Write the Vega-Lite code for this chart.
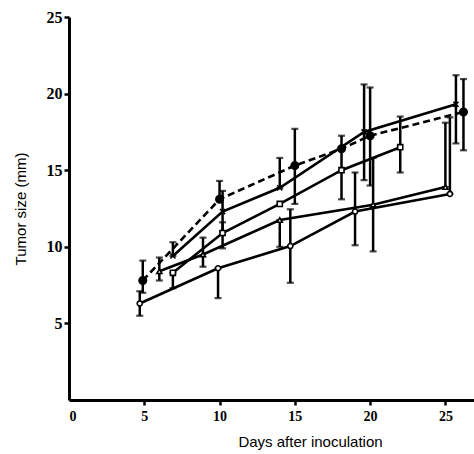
{
  "$schema": "https://vega.github.io/schema/vega-lite/v6.json",
  "width": 405,
  "height": 383,
  "autosize": {"type": "none"},
  "padding": {"left": 69, "top": 17, "right": 0, "bottom": 54},
  "background": "white",
  "config": {"view": {"stroke": null}, "axis": {"grid": false}},
  "data": {"values": [
    {"s": "A", "day": 4.9, "v": 7.8, "lo": 7.0, "hi": 9.1},
    {"s": "A", "day": 10.0, "v": 13.1, "lo": 13.1, "hi": 14.3},
    {"s": "A", "day": 15.0, "v": 15.3, "lo": 12.8, "hi": 17.7},
    {"s": "A", "day": 18.1, "v": 16.4, "lo": 16.4, "hi": 16.4},
    {"s": "A", "day": 20.0, "v": 17.25, "lo": 14.0, "hi": 20.4},
    {"s": "A", "day": 26.2, "v": 18.8, "lo": 16.3, "hi": 20.95},
    {"s": "B", "day": 6.9, "v": 9.4, "lo": 9.4, "hi": 10.3},
    {"s": "B", "day": 10.2, "v": 12.3, "lo": 11.0, "hi": 13.65},
    {"s": "B", "day": 14.0, "v": 13.85, "lo": 13.85, "hi": 15.8},
    {"s": "B", "day": 19.6, "v": 17.5, "lo": 14.35, "hi": 20.6},
    {"s": "B", "day": 25.7, "v": 19.3, "lo": 16.75, "hi": 21.2},
    {"s": "C", "day": 6.9, "v": 8.3, "lo": 7.3, "hi": 8.3},
    {"s": "C", "day": 10.2, "v": 10.9, "lo": 9.9, "hi": 11.6},
    {"s": "C", "day": 14.0, "v": 12.8, "lo": 12.8, "hi": 12.8},
    {"s": "C", "day": 18.1, "v": 15.0, "lo": 13.1, "hi": 17.25},
    {"s": "C", "day": 22.0, "v": 16.5, "lo": 14.85, "hi": 18.5},
    {"s": "D", "day": 6.0, "v": 8.4, "lo": 7.8, "hi": 9.3},
    {"s": "D", "day": 8.9, "v": 9.5, "lo": 8.7, "hi": 10.6},
    {"s": "D", "day": 14.0, "v": 11.75, "lo": 10.0, "hi": 11.75},
    {"s": "D", "day": 20.2, "v": 12.75, "lo": 9.7, "hi": 15.8},
    {"s": "D", "day": 25.0, "v": 13.9, "lo": 13.9, "hi": 18.1},
    {"s": "E", "day": 4.7, "v": 6.3, "lo": 5.5, "hi": 7.1},
    {"s": "E", "day": 9.9, "v": 8.6, "lo": 6.65, "hi": 8.6},
    {"s": "E", "day": 14.7, "v": 10.05, "lo": 7.65, "hi": 12.45},
    {"s": "E", "day": 19.0, "v": 12.3, "lo": 10.1, "hi": 14.85},
    {"s": "E", "day": 25.3, "v": 13.45, "lo": 13.45, "hi": 18.45}
  ]},
  "encoding": {
    "x": {
      "field": "day", "type": "quantitative",
      "scale": {"domain": [0, 26.9], "nice": false, "zero": false},
      "axis": {
        "values": [0, 5, 10, 15, 20, 25],
        "title": "Days after inoculation",
        "domainWidth": 3, "domainColor": "black",
        "tickColor": "black", "tickWidth": 2.5, "tickSize": 5,
        "tickOpacity": {"condition": {"test": "datum.value == 0", "value": 0}, "value": 1},
        "labelFont": "Liberation Sans Narrow", "labelFontWeight": "bold", "labelFontSize": 14, "labelColor": "black", "labelPadding": 4,
        "titleFont": "Liberation Sans", "titleFontSize": 15, "titleFontWeight": "normal", "titleColor": "black",
        "titlePadding": 11, "titleX": 241, "titleAlign": "center", "titleAnchor": "middle"
      }
    },
    "y": {
      "field": "v", "type": "quantitative",
      "scale": {"domain": [0, 25], "nice": false},
      "axis": {
        "values": [5, 10, 15, 20, 25],
        "title": "Tumor size (mm)",
        "domainWidth": 3, "domainColor": "black",
        "tickColor": "black", "tickWidth": 2.5, "tickSize": 5,
        "labelFont": "Liberation Sans Narrow", "labelFontWeight": "bold", "labelFontSize": 16, "labelColor": "black", "labelPadding": 2,
        "titleFont": "Liberation Sans", "titleFontSize": 15, "titleFontWeight": "normal", "titleColor": "black",
        "titlePadding": 18
      }
    }
  },
  "layer": [
    {
      "transform": [{"filter": "datum.hi > datum.lo"}],
      "mark": {"type": "errorbar", "ticks": {"size": 7, "thickness": 2.2, "color": "black"}, "rule": {"strokeWidth": 2.5, "color": "black"}},
      "encoding": {
        "y": {"field": "lo", "type": "quantitative"},
        "y2": {"field": "hi"}
      }
    },
    {
      "transform": [{"filter": "datum.s != 'A'"}],
      "mark": {"type": "line", "color": "black", "strokeWidth": 2.6},
      "encoding": {"detail": {"field": "s"}}
    },
    {
      "transform": [{"filter": "datum.s == 'A'"}],
      "mark": {"type": "line", "color": "black", "strokeWidth": 2.6, "strokeDash": [7, 4]},
      "encoding": {}
    },
    {
      "transform": [{"filter": "datum.s != 'A'"}],
      "mark": {"type": "point", "filled": true, "fill": "white", "stroke": "black", "strokeWidth": 1.6, "size": 26, "opacity": 1},
      "encoding": {
        "shape": {
          "field": "s", "type": "nominal", "legend": null,
          "scale": {"domain": ["B", "C", "D", "E"], "range": ["M-1,-1L1,1M1,-1L-1,1", "square", "triangle-up", "circle"]}
        }
      }
    },
    {
      "transform": [{"filter": "datum.s == 'A'"}],
      "mark": {"type": "point", "shape": "circle", "filled": true, "fill": "black", "stroke": "black", "size": 50, "opacity": 1}
    }
  ]
}
